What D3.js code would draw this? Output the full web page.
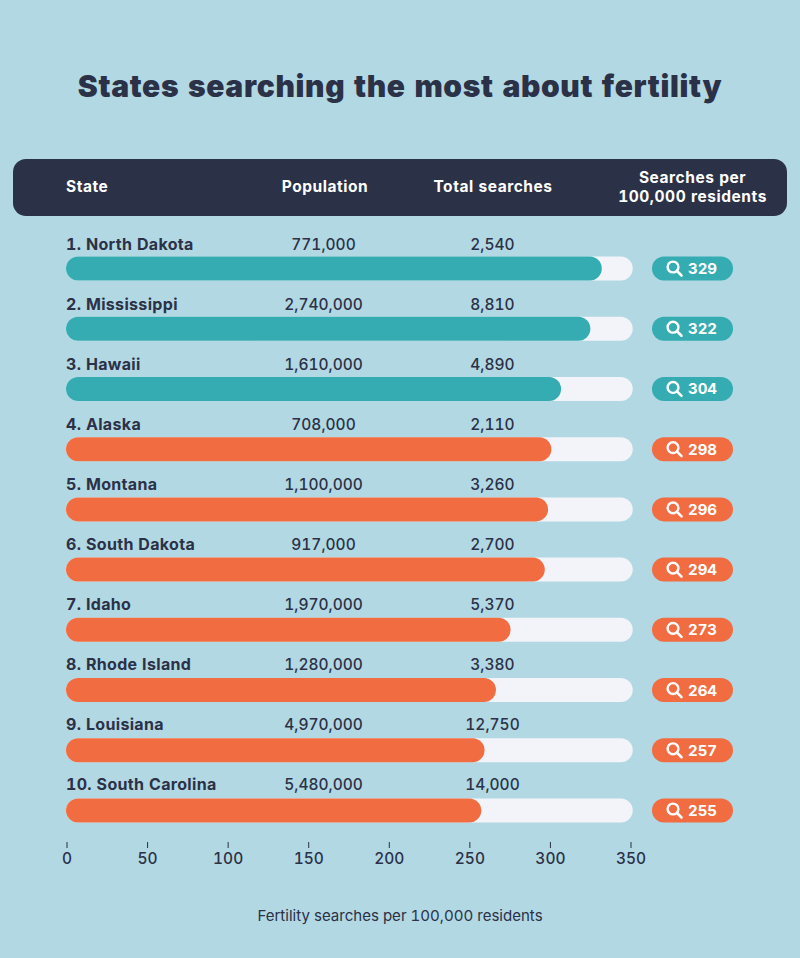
<!DOCTYPE html>
<html>
<head>
  <meta charset="utf-8">
  <title>States searching the most about fertility</title>
  <script src="https://d3js.org/d3.v7.min.js"></script>
  <style>
    html, body { margin: 0; padding: 0; background: #b2d8e3; }
    svg { display: block; font-family: Inter, "Noto Sans", sans-serif; font-variant-numeric: tabular-nums; }
  </style>
</head>
<body>
  <div id="chart"></div>
  <script>
    const states = ["North Dakota", "Mississippi", "Hawaii", "Alaska", "Montana", "South Dakota", "Idaho", "Rhode Island", "Louisiana", "South Carolina"];
    const population = ["771,000", "2,740,000", "1,610,000", "708,000", "1,100,000", "917,000", "1,970,000", "1,280,000", "4,970,000", "5,480,000"];
    const totalSearches = ["2,540", "8,810", "4,890", "2,110", "3,260", "2,700", "5,370", "3,380", "12,750", "14,000"];
    const perResident = [329, 322, 304, 298, 296, 294, 273, 264, 257, 255];
    const axisTicks = [0, 50, 100, 150, 200, 250, 300, 350];
    const trackMax = 348;
    const tealCount = 3;

    const dark = "#2b3147", teal = "#34acb2", orange = "#f26c41", track = "#f2f4f9";

    const svg = d3.select("#chart").append("svg").attr("width", 800).attr("height", 958);
    svg.append("rect").attr("width", 800).attr("height", 958).attr("fill", "#b2d8e3");

    // bars in the picture run a little longer than the printed axis
    const xBar = d3.scaleLinear().domain([0, 350]).range([66, 636]);
    const xAxis = d3.scaleLinear().domain([0, 350]).range([66.5, 630.5]);
    const yRow = d3.scaleLinear().domain([0, 9]).range([268.5, 810.5]);
    const yLabel = d3.scaleLinear().domain([0, 9]).range([250, 790]);
    const barH = 24;

    svg.append("text").attr("x", 400).attr("y", 97)
      .attr("text-anchor", "middle").attr("fill", dark)
      .attr("font-size", 30).attr("font-weight", 900).attr("letter-spacing", 0.65)
      .text("States searching the most about fertility");

    // header band
    svg.append("rect").attr("x", 13).attr("y", 159).attr("width", 774).attr("height", 57)
      .attr("rx", 13).attr("fill", dark);
    const head = svg.append("g").attr("fill", "#fff").attr("font-size", 15.5).attr("font-weight", 700).attr("letter-spacing", 0.55);
    head.append("text").attr("x", 66).attr("y", 192).text("State");
    head.append("text").attr("x", 325).attr("y", 192).attr("text-anchor", "middle").text("Population");
    head.append("text").attr("x", 493).attr("y", 192).attr("text-anchor", "middle").text("Total searches");
    head.append("text").attr("x", 692.5).attr("y", 183).attr("text-anchor", "middle").text("Searches per");
    head.append("text").attr("x", 692.5).attr("y", 202).attr("text-anchor", "middle").text("100,000 residents");

    const rows = svg.selectAll("g.row").data(states).join("g").attr("class", "row");
    const color = i => i < tealCount ? teal : orange;

    rows.append("text").attr("x", 66).attr("y", (d, i) => yLabel(i)).attr("fill", dark)
      .attr("font-size", 16).attr("font-weight", 700).attr("letter-spacing", 0.33)
      .text((d, i) => `${i + 1}. ${d}`);
    rows.append("text").attr("x", 323.5).attr("y", (d, i) => yLabel(i)).attr("text-anchor", "middle").attr("fill", dark)
      .attr("font-size", 15.5).attr("font-weight", 500)
      .text((d, i) => population[i]);
    rows.append("text").attr("x", 492.5).attr("y", (d, i) => yLabel(i)).attr("text-anchor", "middle").attr("fill", dark)
      .attr("font-size", 15.5).attr("font-weight", 500)
      .text((d, i) => totalSearches[i]);

    const bars = rows.append("g").attr("transform", (d, i) => `translate(0,${yRow(i)})`);
    bars.append("rect").attr("x", xBar(0)).attr("y", -barH / 2)
      .attr("width", xBar(trackMax) - xBar(0)).attr("height", barH)
      .attr("rx", barH / 2).attr("fill", track);
    bars.append("rect").attr("x", xBar(0)).attr("y", -barH / 2)
      .attr("width", (d, i) => xBar(perResident[i]) - xBar(0)).attr("height", barH)
      .attr("rx", barH / 2).attr("fill", (d, i) => color(i));

    // value pills with the magnifier icon
    bars.append("rect").attr("x", 652).attr("y", -barH / 2).attr("width", 81).attr("height", barH)
      .attr("rx", barH / 2).attr("fill", (d, i) => color(i));
    bars.append("circle").attr("cx", 673).attr("cy", -1.5).attr("r", 5.4)
      .attr("fill", "none").attr("stroke", "#fff").attr("stroke-width", 2.4);
    bars.append("line").attr("x1", 677).attr("y1", 2.5).attr("x2", 681.5).attr("y2", 7)
      .attr("stroke", "#fff").attr("stroke-width", 2.6).attr("stroke-linecap", "round");
    bars.append("text").attr("x", 702.5).attr("y", 5.5).attr("text-anchor", "middle").attr("fill", "#fff")
      .attr("font-size", 15).attr("font-weight", 700)
      .text((d, i) => perResident[i]);

    // axis, no baseline
    const axis = svg.append("g").attr("transform", "translate(0,842)")
      .call(d3.axisBottom(xAxis).tickValues(axisTicks).tickSize(6).tickPadding(5).tickFormat(d3.format("d")));
    axis.select(".domain").remove();
    axis.selectAll("line").attr("stroke", dark);
    axis.selectAll("text").attr("fill", dark).attr("font-size", 15.5).attr("font-weight", 500)
      .attr("font-family", "Inter, sans-serif");

    svg.append("text").attr("x", 400).attr("y", 921).attr("text-anchor", "middle").attr("fill", dark)
      .attr("font-size", 15.05).attr("font-weight", 400)
      .text("Fertility searches per 100,000 residents");
  </script>
</body>
</html>
